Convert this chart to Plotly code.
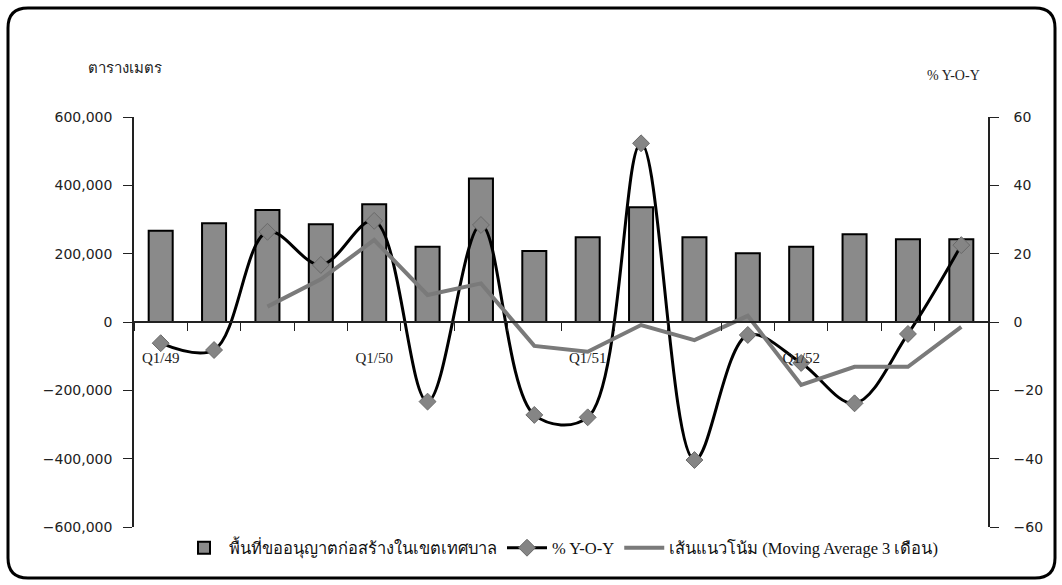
import plotly.graph_objects as go

quarters = ["Q1/49", "Q2/49", "Q3/49", "Q4/49",
            "Q1/50", "Q2/50", "Q3/50", "Q4/50",
            "Q1/51", "Q2/51", "Q3/51", "Q4/51",
            "Q1/52", "Q2/52", "Q3/52", "Q4/52"]
tick_labels = [q if q.startswith("Q1") else "" for q in quarters]

area = [267000, 289000, 328000, 286000, 345000, 220000, 420000, 208000,
        248000, 336000, 248000, 201000, 220000, 257000, 242000, 242000]
yoy = [-6.2, -8.2, 26.4, 16.7, 29.6, -23.3, 28.4, -27.2,
       -27.9, 52.3, -40.4, -3.8, -12.0, -23.8, -3.5, 22.5]
trend = [None, None, 4.5, 12.5, 24.0, 7.9, 11.3, -7.0,
         -8.7, -0.9, -5.3, 1.8, -18.4, -13.1, -13.1, -1.4]

name_bar = "พื้นที่ขออนุญาตก่อสร้างในเขตเทศบาล"
name_yoy = "% Y-O-Y"
name_ma = "เส้นแนวโน้ม (Moving Average 3 เดือน)"

W, H = 1062, 585
L, R, T, B = 134, 988, 117, 527


def px(x):
    return (x - L) / (R - L)


def py(y):
    return (B - y) / (B - T)


bars = go.Bar(
    x=quarters, y=area, name=name_bar,
    marker=dict(color="#8a8a8a", line=dict(color="black", width=2)),
    yaxis="y",
)
line_yoy = go.Scatter(
    x=quarters, y=yoy, name=name_yoy, mode="lines+markers",
    line=dict(color="black", width=3, shape="spline", smoothing=1.0),
    marker=dict(symbol="diamond", size=13, color="#858585",
                line=dict(color="#6a6a6a", width=1)),
    yaxis="y2",
)
line_ma = go.Scatter(
    x=quarters, y=trend, name=name_ma, mode="lines",
    line=dict(color="#7a7a7a", width=4),
    yaxis="y2",
)

# rounded frame around the whole chart
x0, x1, y0, y1, r = 8, 1055, 8, 578, 20
frame = (
    f"M {px(x0 + r)},{py(y0)} L {px(x1 - r)},{py(y0)} "
    f"Q {px(x1)},{py(y0)} {px(x1)},{py(y0 + r)} "
    f"L {px(x1)},{py(y1 - r)} Q {px(x1)},{py(y1)} {px(x1 - r)},{py(y1)} "
    f"L {px(x0 + r)},{py(y1)} Q {px(x0)},{py(y1)} {px(x0)},{py(y1 - r)} "
    f"L {px(x0)},{py(y0 + r)} Q {px(x0)},{py(y0)} {px(x0 + r)},{py(y0)} Z"
)

tick_font = dict(family="DejaVu Sans", size=14, color="#222")

layout = go.Layout(
    width=W, height=H,
    margin=dict(l=L, r=W - R, t=T, b=H - B),
    paper_bgcolor="white", plot_bgcolor="white",
    bargap=0.55,
    showlegend=True,
    legend=dict(orientation="h", x=0.5, xanchor="center", y=py(548), yanchor="middle",
                font=dict(family="Liberation Serif", size=16.5, color="#111"),
                itemwidth=40, tracegroupgap=0),
    xaxis=dict(
        type="category", tickmode="array", tickvals=quarters, ticktext=tick_labels,
        range=[-0.5, len(quarters) - 0.5],
        tickson="boundaries", ticks="outside", ticklen=8, tickcolor="#222",
        showline=True, linecolor="#222", linewidth=1.5,
        anchor="free", position=0.5, showgrid=False, zeroline=False,
        ticklabelstandoff=22,
        tickfont=dict(family="Liberation Serif", size=15, color="#222"),
    ),
    yaxis=dict(
        range=[-600000, 600000], tickvals=[-600000, -400000, -200000, 0, 200000, 400000, 600000],
        tickformat=",d", ticks="outside", ticklen=9, tickcolor="#222",
        showline=True, linecolor="#222", linewidth=1.5,
        showgrid=False, zeroline=False, tickfont=tick_font, ticklabelstandoff=8,
    ),
    yaxis2=dict(
        range=[-60, 60], tickvals=[-60, -40, -20, 0, 20, 40, 60],
        overlaying="y", side="right", ticks="outside", ticklen=9, tickcolor="#222",
        showline=True, linecolor="#222", linewidth=1.5,
        showgrid=False, zeroline=False, tickfont=tick_font, ticklabelstandoff=12,
    ),
    shapes=[dict(type="path", xref="paper", yref="paper", path=frame,
                 line=dict(color="black", width=3), layer="above")],
    annotations=[
        dict(text="ตารางเมตร", xref="paper", yref="paper", x=px(125), y=py(68),
             xanchor="center", yanchor="middle", showarrow=False,
             font=dict(family="Liberation Serif", size=15, color="#222")),
        dict(text="% Y-O-Y", xref="paper", yref="paper", x=px(953), y=py(76),
             xanchor="center", yanchor="middle", showarrow=False,
             font=dict(family="Liberation Serif", size=14, color="#222")),
    ],
)

fig = go.Figure(data=[bars, line_yoy, line_ma], layout=layout)
# drop the default page margin so the chart sits at the window's corner
fig.write_html("out.html", config={"displayModeBar": False},
               post_script="document.body.style.margin='0';")
